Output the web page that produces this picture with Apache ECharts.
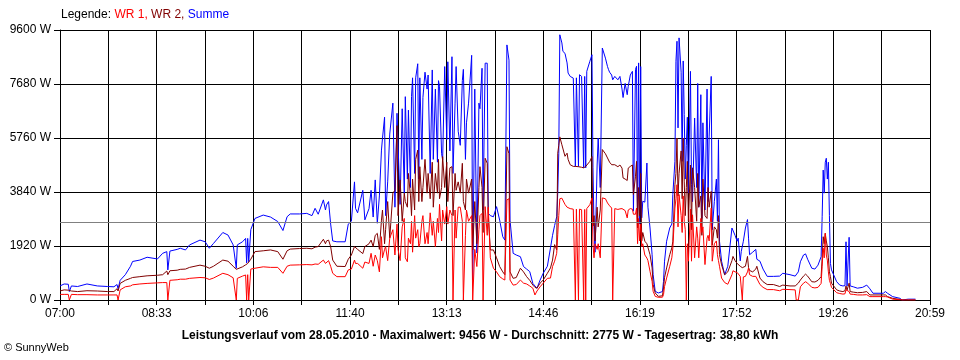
<!DOCTYPE html>
<html><head><meta charset="utf-8">
<script src="https://cdn.jsdelivr.net/npm/echarts@6/dist/echarts.min.js"></script>
<style>html,body{margin:0;padding:0;background:#fff}#c{width:960px;height:360px}</style>
</head><body><div id="c"></div>
<script>
// x tick labels (every second grid line)
const tickLabels = ['07:00','08:33','10:06','11:40','13:13','14:46','16:19','17:52','19:26','20:59'];
const spanMinutes = 839;      // 07:00 .. 20:59
const gridSteps = 18;         // vertical grid lines
const average = 2775;         // Durchschnitt (W)

// minutes after 07:00
const minutes = [0,4,8,9,11,17,26,36,46,52,55,56,58,63,68,70,77,84,94,99,103,104,106,113,116,121,125,135,140,144,148,157,162,167,170,171,176,179,180,181,182,184,188,196,203,210,215,219,222,231,238,243,246,249,254,256,257,259,261,263,267,275,278,281,284,285,287,292,294,298,300,302,304,306,308,310,311,313,314,316,318,321,323,325,326,328,330,332,333,335,336,338,339,340,342,343,345,346,347,349,350,352,354,355,357,359,360,362,364,365,366,368,369,371,373,374,376,378,379,381,382,384,386,388,389,391,392,394,397,398,400,402,404,405,407,408,410,412,413,415,418,421,424,427,429,431,433,434,437,440,444,447,450,453,456,458,460,463,466,470,473,475,477,479,480,481,482,484,485,487,489,490,492,495,497,498,500,501,503,505,506,507,508,511,513,514,515,516,518,519,521,523,524,526,528,529,530,532,533,535,538,540,542,543,545,547,548,550,552,553,555,556,557,558,559,560,561,562,564,566,567,569,571,572,574,577,581,582,583,585,588,590,591,593,594,595,596,597,599,600,601,602,603,604,605,606,608,609,610,612,614,615,616,618,619,620,622,624,625,626,628,629,631,633,634,635,636,638,641,644,648,649,651,653,654,656,657,658,659,661,663,664,665,668,671,672,675,678,682,688,694,697,704,709,710,712,714,717,719,721,725,728,731,734,735,736,737,738,739,740,741,742,743,744,745,749,752,755,757,758,759,761,762,765,769,774,778,781,784,794,796,798,803,810,812,818,825];

// Summe (W)
const summe = [500,570,560,300,500,480,570,500,480,470,550,400,700,900,1200,1370,1420,1520,1460,1660,1720,1070,1740,1800,1840,1780,1960,2130,2070,1840,2010,2400,2310,1960,1130,1960,2070,2190,1320,2190,1360,2500,2900,3020,2950,2790,2470,2960,3060,3060,3080,3000,3260,3050,3560,3200,3380,3500,2700,2100,2070,2070,2700,2800,4200,3260,3100,3900,2850,3250,3900,2950,4270,2730,3700,5330,5750,6500,3000,4200,5900,7000,3300,6640,6700,3400,6800,3800,7230,4300,6750,4000,7230,7900,4500,7900,8400,4300,7900,5000,7200,8100,7500,8000,4500,8180,5000,7500,4900,7800,7600,5200,4980,8300,5700,8470,5300,8650,4500,7000,8300,6000,5500,7800,8200,5000,6300,7000,8700,710,7500,1670,7000,6800,8240,3200,8420,8420,3080,3000,2960,3320,2840,2250,2130,9070,8530,2840,1660,1600,1540,1190,1100,1010,590,500,420,710,950,1200,1850,2300,2650,2960,3800,5200,9430,9140,8840,8770,8430,8070,7950,7890,4750,7900,4750,8010,7950,4700,7950,4700,8130,8490,8720,4700,2560,1700,4800,5760,4000,8960,8900,8600,8300,8190,8100,8000,7830,7950,7830,7950,7500,7200,7700,7300,7600,8000,8130,3160,8200,8310,2560,8430,2700,8300,2920,3510,3480,4870,3300,2560,1610,900,310,250,300,660,1380,2090,2560,2700,3750,4930,8490,9200,6120,9320,8100,4930,8500,6590,4300,5500,6500,3800,8130,4100,3500,6470,4000,7700,3300,7300,2900,6300,3200,7500,3500,5800,7950,2500,3500,4300,2800,5700,2090,1380,900,1200,2560,2600,2300,2090,2200,1390,1730,1700,2090,2560,2860,2200,1610,1700,1800,1450,1380,1100,840,840,850,950,900,850,850,1000,1360,1600,1640,1450,1130,1100,1240,1540,2960,4620,3800,4900,5040,4300,4900,3000,1300,1070,1000,650,530,500,510,2070,500,2230,500,470,420,450,530,400,240,240,300,240,120,60,0,30,30];

// WR 2 (W)
const wr2 = [320,360,350,300,320,300,330,320,300,300,400,320,590,700,770,800,830,860,880,900,1030,900,1040,1060,1090,1100,1160,1240,1200,1130,1200,1420,1380,1200,1090,1100,1180,1250,1230,1300,1330,1450,1720,1750,1780,1720,1450,1750,1810,1830,1840,1820,1880,1900,2160,2000,2100,2130,1900,1420,1200,1190,1450,1600,1900,1880,1800,1650,1900,2000,2130,1900,2300,2370,1800,2840,3200,2000,2500,3500,2200,3800,3900,6200,3000,4270,2800,3800,3500,3300,4500,3700,3000,4300,3200,5000,5330,3500,4740,3500,4000,5000,3800,4500,3600,4900,3300,4500,3800,5000,3600,4000,5100,4000,4900,3500,4700,4740,3000,4500,3900,4200,3800,4860,3500,3200,4300,3800,4300,1780,3500,2000,4000,4740,4000,2400,5040,4860,3000,1780,1780,1500,1190,1000,900,5450,5200,1000,770,800,1130,1000,830,700,530,450,420,600,710,950,1140,1420,1970,1780,5220,5500,5800,5520,5450,5110,5220,5000,4810,4750,4750,4750,4740,4760,4720,4700,4700,4750,4800,4930,5100,2630,3000,2100,3300,2600,3200,5350,5300,5200,5050,5000,4900,4810,4800,4810,4740,4800,4690,4340,4300,4250,4690,4750,4800,3750,4400,4930,2560,4000,3000,4500,2100,2400,2090,2000,1950,1610,1140,550,250,130,150,430,800,1140,1610,1850,2090,4100,4500,5760,3700,4500,5300,3600,5760,4200,3000,4000,4930,2800,4800,2500,4700,4000,2800,4500,3300,3700,2300,4300,3000,2900,4000,3300,3860,1950,2600,2500,2200,3000,1610,1250,900,1000,1400,1550,1400,1300,1250,1200,1200,1150,1150,1200,1550,1150,1050,1000,1100,1200,780,650,550,550,480,530,500,500,500,600,710,850,920,850,650,640,700,830,1500,2250,2000,2370,2100,1900,1500,1000,830,600,530,360,320,300,330,500,350,600,300,280,260,270,300,180,180,180,180,120,60,20,0,0,0];

// WR 1 (W)
const wr1 = [200,200,200,0,200,190,190,180,180,180,180,0,360,470,500,540,570,590,610,620,620,0,700,720,740,740,770,800,790,730,780,950,900,790,0,770,850,890,0,900,0,1100,1130,1180,1160,1160,950,1200,1240,1250,1260,1250,1280,1270,1420,1300,1350,1400,1200,950,830,830,1070,1100,1420,1300,1300,1130,1350,1300,1660,1200,1600,1400,1000,2250,1500,1800,1900,1400,2200,2500,1600,2700,1800,1400,2600,2900,1500,1360,2200,2000,2800,1700,3000,2200,2500,1900,2000,2800,3000,2000,2400,2000,3100,2300,2800,1900,2900,2400,3400,2100,3200,2700,3320,2700,3200,3000,0,3200,2200,3300,3300,2800,0,2300,3200,2800,3000,0,1800,1190,2500,3000,3080,0,3320,2300,3300,1500,1130,1000,830,750,710,3560,3600,710,530,550,710,600,570,500,420,180,320,470,600,770,780,1190,1380,1660,2320,3000,3600,3620,3600,3400,3300,3250,3250,3230,0,3230,0,3230,3210,0,3220,0,3250,3390,3630,1970,1500,2000,1800,2000,1500,3630,3620,3600,3450,3400,3350,3270,0,3250,3220,3240,3250,3230,3180,2920,3200,3250,3230,3050,3050,3270,2000,2900,2100,2700,1900,2000,1600,1490,1400,1020,660,310,130,95,100,190,480,780,1200,1500,1850,3270,3600,4100,2600,3750,3000,2400,3700,2800,2500,0,2000,1380,3230,1380,3030,1500,2600,2200,1500,2900,2400,2600,1260,2200,2300,2100,3270,1380,2000,2100,1610,1400,1200,780,620,560,900,1040,1000,980,1000,840,840,0,820,840,1000,1140,900,840,840,840,550,450,370,370,330,380,370,360,0,0,470,600,650,600,450,430,450,590,1200,1840,1500,2370,1600,1420,1000,700,590,450,410,260,230,210,220,360,360,300,210,200,180,180,190,120,120,120,120,110,30,10,0,0,0];

const toAxis = m => m * gridSteps / spanMinutes;
const pairs = vals => minutes.map((m, i) => [toAxis(m), vals[i]]);

const chart = echarts.init(document.getElementById('c'), null, {renderer: 'canvas'});
const font = 'Liberation Sans, Arial, sans-serif';
const legendStyle = c => ({color: c, fontSize: 12, fontWeight: 'normal', fontFamily: font});
chart.setOption({
  animation: false,
  backgroundColor: '#fff',
  textStyle: {fontFamily: font},
  title: [
    {
      text: '{k|Legende: }{r|WR 1, }{d|WR 2, }{b|Summe}',
      left: 61, top: 9, padding: 0,
      textStyle: {
        fontFamily: font, fontWeight: 'normal', fontSize: 12,
        rich: {k: legendStyle('#000'), r: legendStyle('#ff0000'), d: legendStyle('#800000'), b: legendStyle('#0000ff')}
      }
    },
    {
      text: 'Leistungsverlauf vom 28.05.2010 - Maximalwert: 9456 W - Durchschnitt: 2775 W - Tagesertrag: 38,80 kWh',
      left: 'center', top: 330, padding: 0,
      textStyle: {fontSize: 12, fontWeight: 'bold', color: '#000', fontFamily: font}
    },
    {
      text: '© SunnyWeb',
      left: 4, top: 342, padding: 0,
      textStyle: {fontSize: 11, fontWeight: 'normal', color: '#000', fontFamily: font}
    }
  ],
  grid: {left: 60, right: 30, top: 30, bottom: 60, containLabel: false},
  xAxis: {
    type: 'value', min: 0, max: gridSteps, interval: 1,
    axisLine: {show: true, lineStyle: {color: '#000', width: 1}},
    axisTick: {show: true, length: 5, lineStyle: {color: '#000'}},
    splitLine: {show: true, lineStyle: {color: '#000', width: 1}},
    axisLabel: {
      color: '#000', fontSize: 12, margin: 8, fontFamily: font,
      formatter: v => { const k = Math.round(v); return k % 2 === 0 ? tickLabels[k / 2] : ''; }
    }
  },
  yAxis: {
    type: 'value', min: 0, max: 9600, interval: 1920,
    axisLine: {show: true, lineStyle: {color: '#000', width: 1}},
    axisTick: {show: true, length: 6, lineStyle: {color: '#000'}},
    splitLine: {show: true, lineStyle: {color: '#000', width: 1}},
    axisLabel: {color: '#000', fontSize: 12, margin: 9, fontFamily: font, formatter: v => v + ' W'}
  },
  series: [
    {
      name: 'Summe', type: 'line', data: pairs(summe), showSymbol: false,
      lineStyle: {color: '#0000ff', width: 1}, itemStyle: {color: '#0000ff'},
      markLine: {
        silent: true, symbol: ['none', 'none'], label: {show: false},
        lineStyle: {color: '#808080', type: 'solid', width: 1},
        data: [{yAxis: average}]
      }
    },
    {
      name: 'WR 2', type: 'line', data: pairs(wr2), showSymbol: false,
      lineStyle: {color: '#800000', width: 1}, itemStyle: {color: '#800000'}
    },
    {
      name: 'WR 1', type: 'line', data: pairs(wr1), showSymbol: false,
      lineStyle: {color: '#ff0000', width: 1}, itemStyle: {color: '#ff0000'}
    }
  ]
});
</script>
</body></html>
